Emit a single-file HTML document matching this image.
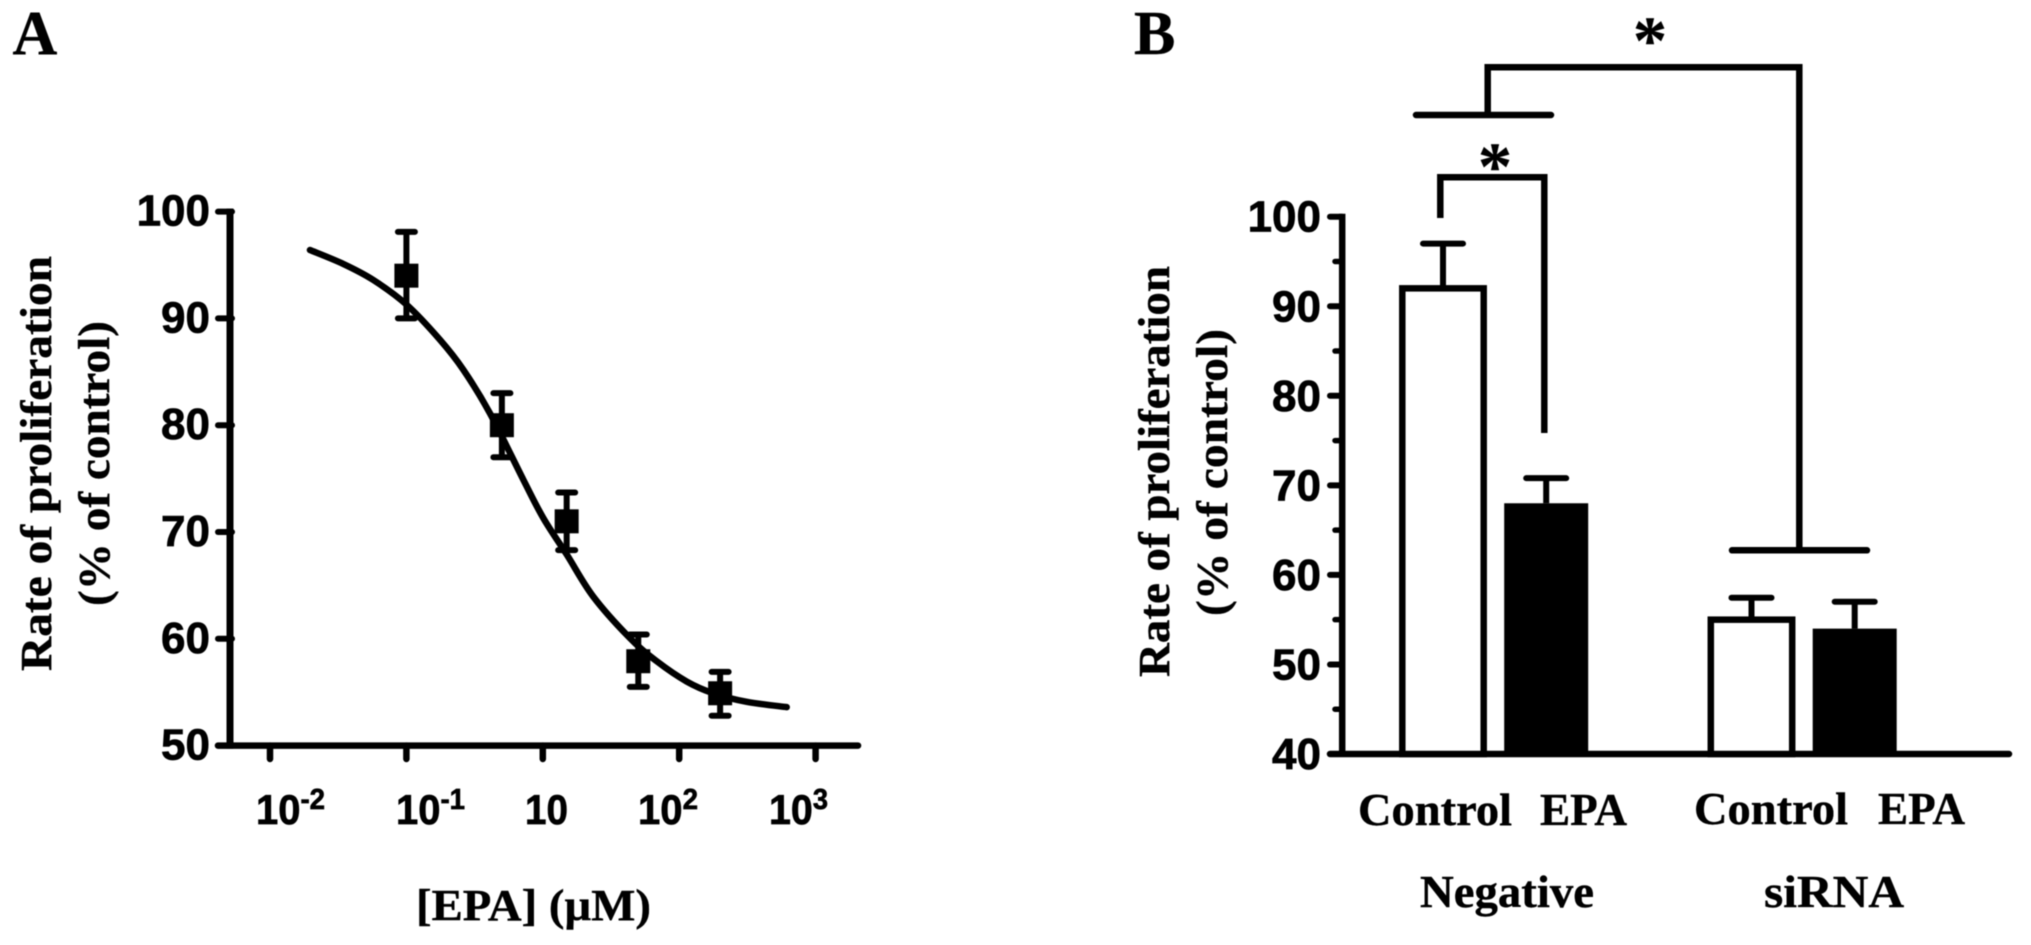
<!DOCTYPE html>
<html lang="en">
<head>
<meta charset="utf-8">
<title>EPA proliferation charts</title>
<style>
html,body{margin:0;padding:0;background:#fff;width:2031px;height:945px;overflow:hidden}
svg{display:block;filter:blur(0.6px)}
.sans{font-family:"Liberation Sans",Arial,sans-serif;font-weight:700;fill:#000;stroke:#000;stroke-width:0.7px}
.serif{font-family:"Liberation Serif","Times New Roman",serif;font-weight:700;fill:#000;stroke:#000;stroke-width:0.4px}
</style>
</head>
<body>
<svg id="chart" xmlns="http://www.w3.org/2000/svg" width="2031" height="945" viewBox="0 0 2031 945">
  <rect width="2031" height="945" fill="#fff"/>

  <text class="serif" x="12.5" y="54" font-size="62">A</text>
  <text class="serif" x="1134" y="54" font-size="62">B</text>

  <g id="panelA"></g>
  <g id="panelB"></g>

  <text class="serif" transform="translate(51,671) rotate(-90)" font-size="44" textLength="415" lengthAdjust="spacingAndGlyphs">Rate of proliferation</text>
  <text class="serif" transform="translate(109,606) rotate(-90)" font-size="44" textLength="285" lengthAdjust="spacingAndGlyphs">(% of control)</text>
  <text class="serif" x="416" y="920" font-size="44" textLength="235" lengthAdjust="spacingAndGlyphs">[EPA] (µM)</text>

  <g class="sans" font-size="42">
    <text x="256" y="824" textLength="69" lengthAdjust="spacingAndGlyphs">10<tspan font-size="29" dy="-15">-2</tspan></text>
    <text x="396" y="824" textLength="69" lengthAdjust="spacingAndGlyphs">10<tspan font-size="29" dy="-15">-1</tspan></text>
    <text x="525" y="824" textLength="43" lengthAdjust="spacingAndGlyphs">10</text>
    <text x="638" y="824" textLength="60" lengthAdjust="spacingAndGlyphs">10<tspan font-size="29" dy="-15">2</tspan></text>
    <text x="769" y="824" textLength="59" lengthAdjust="spacingAndGlyphs">10<tspan font-size="29" dy="-15">3</tspan></text>
  </g>

  <text class="serif" transform="translate(1169,677) rotate(-90)" font-size="44" textLength="411" lengthAdjust="spacingAndGlyphs">Rate of proliferation</text>
  <text class="serif" transform="translate(1227,616) rotate(-90)" font-size="44" textLength="287" lengthAdjust="spacingAndGlyphs">(% of control)</text>

  <g class="serif" font-size="46">
    <text x="1358" y="825" textLength="154" lengthAdjust="spacingAndGlyphs">Control</text>
    <text x="1540" y="825" textLength="87" lengthAdjust="spacingAndGlyphs">EPA</text>
    <text x="1694" y="824" textLength="154" lengthAdjust="spacingAndGlyphs">Control</text>
    <text x="1878" y="824" textLength="87" lengthAdjust="spacingAndGlyphs">EPA</text>
    <text x="1420" y="907" textLength="174" lengthAdjust="spacingAndGlyphs">Negative</text>
    <text x="1764" y="907" textLength="140" lengthAdjust="spacingAndGlyphs">siRNA</text>
  </g>

  <g fill="none" stroke="#000" stroke-width="6.5">
    <path d="M1487.7 115V67.3H1799.3V550"/>
    <line x1="1416" y1="115" x2="1551" y2="115" stroke-linecap="round"/>
    <line x1="1732" y1="550.3" x2="1867" y2="550.3" stroke-linecap="round"/>
    <path d="M1440.3 218V177.3H1544.3V433"/>
  </g>
  <text class="serif" x="1650" y="63" font-size="68" text-anchor="middle">*</text>
  <text class="serif" x="1495" y="189" font-size="68" text-anchor="middle">*</text>
</svg>
<script>
// Panel A data
const aYTicks = [50, 60, 70, 80, 90, 100];
const aXTickExponents = [-2, -1, 0, 1, 2];
const aLogDose = [-1, -0.3, 0.175, 0.7, 1.3];
const aValues = [94, 80, 71, 57.9, 54.9];
const aErrHigh = [98.1, 83, 73.7, 60.4, 56.9];
const aErrLow = [90, 77, 68.3, 55.5, 52.8];
const aCurveLogDose = [-1.707, -1.463, -1.243, -1, -0.754, -0.583, -0.387, -0.143, 0.004, 0.175, 0.37, 0.64, 0.835, 1.055, 1.25, 1.495, 1.788];
const aCurveValues = [96.4, 95.1, 93.6, 91.3, 88, 85.2, 81.1, 74.9, 71.3, 67.9, 63.95, 60.05, 57.9, 56, 54.9, 54.1, 53.6];

// Panel B data
const bYTicks = [40, 50, 60, 70, 80, 90, 100];
const bYMinorTicks = [45, 55, 65, 75, 85, 95];
const bCategories = ['negative-control', 'negative-epa', 'sirna-control', 'sirna-epa'];
const bValues = [92, 68, 55, 54];
const bErrHigh = [97, 70.8, 57.45, 57];

const NS = 'http://www.w3.org/2000/svg';
function make(parent, tag, props) {
  const node = document.createElementNS(NS, tag);
  for (const key in props) node.setAttribute(key, props[key]);
  parent.appendChild(node);
  return node;
}

// Axis functions
const xA = exp => 270 + 136.4 * (exp + 2);
const yA = v => 745.6 - (v - 50) * 10.68;
const xB = i => 1443 + 103.2 * (i % 2) + 308.5 * Math.floor(i / 2);
const yB = v => 754 - (v - 40) * 8.955;

const panelA = document.getElementById('panelA');
const panelB = document.getElementById('panelB');
const INK = '#000';

// --- Panel A axes
const aYAxis = make(panelA, 'line', {x1: xA(-2) - 40, x2: xA(-2) - 40, y1: yA(100) - 3, y2: yA(50) + 3, stroke: INK, 'stroke-width': 7});


const aXAxis = make(panelA, 'line', {x1: 218, x2: 858, y1: yA(50), y2: yA(50), stroke: INK, 'stroke-width': 6.5, 'stroke-linecap': 'round'});



aYTicks.forEach(v => {
  const tick = make(panelA, 'line', {x1: 218, x2: 232, y1: yA(v), y2: yA(v), stroke: INK, 'stroke-width': 6, 'stroke-linecap': 'round'});
  
  
  const label = make(panelA, 'text', {x: 210, y: yA(v) + 14, 'text-anchor': 'end', 'font-size': 44, class: 'sans'});
  label.textContent = String(v);
  
  
});

aXTickExponents.forEach(e => {
  const tick = make(panelA, 'line', {x1: xA(e), x2: xA(e), y1: yA(50), y2: 759, stroke: INK, 'stroke-width': 6.5, 'stroke-linecap': 'round'});
  
  
});

// --- Panel A fitted curve (Catmull-Rom through the points)
const pts = aCurveLogDose.map((d, i) => [xA(d), yA(aCurveValues[i])]);
let curveD = 'M' + pts[0][0] + ' ' + pts[0][1];
for (let i = 0; i < pts.length - 1; i++) {
  const p0 = pts[Math.max(i - 1, 0)], p1 = pts[i], p2 = pts[i + 1], p3 = pts[Math.min(i + 2, pts.length - 1)];
  const c1x = p1[0] + (p2[0] - p0[0]) / 6, c1y = p1[1] + (p2[1] - p0[1]) / 6;
  const c2x = p2[0] - (p3[0] - p1[0]) / 6, c2y = p2[1] - (p3[1] - p1[1]) / 6;
  curveD += ` C${c1x} ${c1y} ${c2x} ${c2y} ${p2[0]} ${p2[1]}`;
}
const curve = make(panelA, 'path', {d: curveD, fill: 'none', stroke: INK, 'stroke-width': 6.5, 'stroke-linecap': 'round'});



// --- Panel A points
aLogDose.forEach((d, i) => {
  const x = xA(d);
  const stem = make(panelA, 'line', {x1: x, x2: x, y1: yA(aErrHigh[i]), y2: yA(aErrLow[i]), stroke: INK, 'stroke-width': 6});
  
  
  const capHigh = make(panelA, 'line', {x1: x - 8.5, x2: x + 8.5, y1: yA(aErrHigh[i]), y2: yA(aErrHigh[i]), stroke: INK, 'stroke-width': 6, 'stroke-linecap': 'round'});
  
  
  const capLow = make(panelA, 'line', {x1: x - 8.5, x2: x + 8.5, y1: yA(aErrLow[i]), y2: yA(aErrLow[i]), stroke: INK, 'stroke-width': 6, 'stroke-linecap': 'round'});
  
  
  const square = make(panelA, 'rect', {x: x - 12, y: yA(aValues[i]) - 12, width: 24, height: 24, fill: INK});
  
  
});

// --- Panel B axes
const bYAxis = make(panelB, 'line', {x1: 1342.2, x2: 1342.2, y1: yB(100) - 3, y2: yB(40) + 3, stroke: INK, 'stroke-width': 6.5});


const bXAxis = make(panelB, 'line', {x1: 1330, x2: 2009, y1: yB(40), y2: yB(40), stroke: INK, 'stroke-width': 6.5, 'stroke-linecap': 'round'});



bYTicks.forEach(v => {
  const tick = make(panelB, 'line', {x1: 1330, x2: 1342, y1: yB(v), y2: yB(v), stroke: INK, 'stroke-width': 6, 'stroke-linecap': 'round'});
  
  
  const label = make(panelB, 'text', {x: 1321, y: yB(v) + 15, 'text-anchor': 'end', 'font-size': 44, class: 'sans'});
  label.textContent = String(v);
  
  
});
bYMinorTicks.forEach(v => {
  const tick = make(panelB, 'line', {x1: 1335, x2: 1342, y1: yB(v), y2: yB(v), stroke: INK, 'stroke-width': 5.5, 'stroke-linecap': 'round'});
  
  
});

// --- Panel B bars
bCategories.forEach((c, i) => {
  const x = xB(i);
  const stem = make(panelB, 'line', {x1: x, x2: x, y1: yB(bErrHigh[i]), y2: yB(bValues[i]), stroke: INK, 'stroke-width': 6});
  
  
  const cap = make(panelB, 'line', {x1: x - 20, x2: x + 20, y1: yB(bErrHigh[i]), y2: yB(bErrHigh[i]), stroke: INK, 'stroke-width': 6, 'stroke-linecap': 'round'});
  
  
  const filled = i % 2 === 1;
  const bar = filled
    ? make(panelB, 'rect', {x: x - 42, y: yB(bValues[i]), width: 84, height: yB(40) - yB(bValues[i]), fill: INK})
    : make(panelB, 'rect', {x: x - 40.7, y: yB(bValues[i]), width: 81.4, height: yB(40) - yB(bValues[i]), fill: '#fff', stroke: INK, 'stroke-width': 6.5});
  
  
});
</script>
</body>
</html>
